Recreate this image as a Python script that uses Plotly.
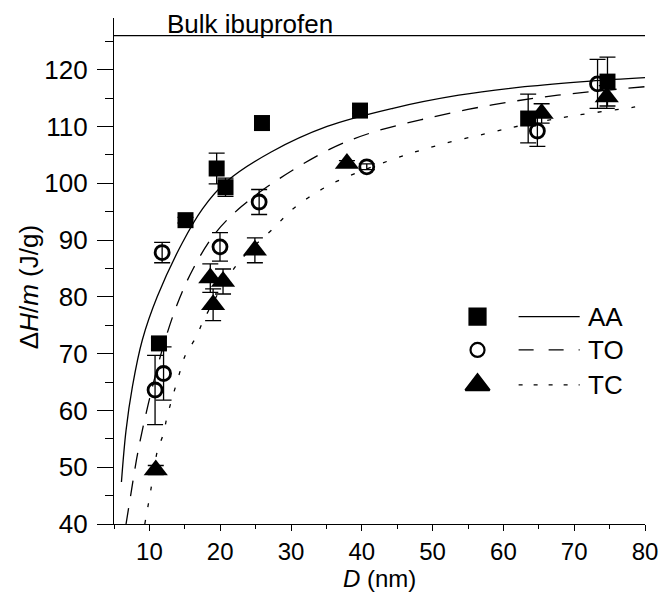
import plotly.graph_objects as go

# ---------------- data ----------------
# AA (filled squares)
aa_D = [11.35, 15.1, 19.5, 20.75, 25.9, 39.75, 63.5, 74.7]
aa_H = [71.8, 93.5, 102.6, 99.3, 110.6, 112.8, 111.4, 117.9]
aa_err = [1.0, 0.5, 2.7, 1.6, 1.2, 0.5, 4.3, 4.3]

# TO (open circles)
to_D = [10.8, 12.0, 11.8, 19.97, 25.5, 40.7, 64.8, 73.3]
to_H = [63.6, 66.5, 87.8, 88.8, 96.7, 102.9, 109.2, 117.5]
to_err = [6.1, 4.7, 1.8, 2.5, 2.2, 0.5, 2.7, 4.3]

# TC (filled triangles)
tc_D = [10.9, 18.6, 19.0, 20.4, 24.9, 37.9, 65.4, 74.6]
tc_H = [49.5, 83.3, 78.6, 82.7, 88.2, 103.5, 112.3, 115.2]
tc_err = [0.8, 2.5, 2.8, 2.2, 2.2, 0.5, 1.7, 2.0]

# fitted curves, points
aa_fit_D = [6.05, 6.7, 7.6, 9.0, 11.1, 14.6, 17.5, 20.9, 27.2, 35.1, 44.4, 53.7, 63.0, 72.3, 80.0]
aa_fit_H = [47.4, 56.5, 64.2, 72.4, 80.0, 89.4, 95.5, 100.3, 105.5, 110.0, 113.2, 115.5, 117.0, 118.0, 118.6]

to_fit_D = [6.7, 7.4, 8.2, 9.0, 10.5, 12.0, 13.9, 16.2, 19.3, 23.0, 28.1, 35.5, 41.1, 49.1, 58.4, 67.7, 80.0]
to_fit_H = [40.0, 45.4, 51.5, 56.5, 64.5, 71.5, 78.6, 85.0, 91.2, 95.9, 100.6, 106.0, 108.8, 111.4, 113.8, 115.5, 117.0]

tc_fit_D = [9.35, 10.2, 11.1, 12.0, 12.5, 14.1, 15.1, 16.5, 17.9, 22.5, 27.7, 30.4, 35.6, 43.9, 50.5, 57.4, 63.0, 70.0, 78.4, 80.0]
tc_fit_H = [40.0, 46.0, 52.7, 56.0, 58.9, 65.9, 69.8, 72.7, 76.5, 85.9, 92.3, 95.6, 99.8, 104.0, 106.6, 108.7, 110.3, 111.9, 113.4, 113.8]

bulk_value = 126.0
bulk_label = "Bulk ibuprofen"
series_names = ["AA", "TO", "TC"]

x_range = [5, 80]
y_range = [40, 129.1]

FONT = "Liberation Sans, Arial, sans-serif"
FS = 26
LW = 1.3

fig = go.Figure()

# fit curves
fig.add_trace(go.Scatter(x=aa_fit_D, y=aa_fit_H, mode="lines", line=dict(color="black", width=LW, shape="spline"), showlegend=False))
fig.add_trace(go.Scatter(x=to_fit_D, y=to_fit_H, mode="lines", line=dict(color="black", width=LW, dash="16px,12px", shape="spline"), showlegend=False))
fig.add_trace(go.Scatter(x=tc_fit_D, y=tc_fit_H, mode="lines", line=dict(color="black", width=LW, dash="4px,13px", shape="spline"), showlegend=False))

err_style = dict(type="data", color="black", thickness=LW, width=8)

fig.add_trace(go.Scatter(x=tc_D, y=tc_H, mode="markers",
                         error_y=dict(array=tc_err, **err_style),
                         marker=dict(symbol="triangle-up", size=21, color="black"), showlegend=False))
fig.add_trace(go.Scatter(x=aa_D, y=aa_H, mode="markers",
                         error_y=dict(array=aa_err, **err_style),
                         marker=dict(symbol="square", size=16, color="black"), showlegend=False))
fig.add_trace(go.Scatter(x=to_D, y=to_H, mode="markers",
                         error_y=dict(array=to_err, **err_style),
                         marker=dict(symbol="circle-open", size=14, color="black", line=dict(width=2.8, color="black")),
                         showlegend=False))

# legend built on an overlay axis in [0,1] coordinates
leg_rows = [0.41, 0.344, 0.275]
leg_marker_x = 0.6846
leg_line_x = [0.762, 0.877]
leg_text_x = 0.889
leg_symbols = ["square", "circle-open", "triangle-up"]
leg_sizes = [16, 14, 21]
leg_dash = ["solid", "15px,15px", "4px,11px"]
for i in range(3):
    fig.add_trace(go.Scatter(x=[leg_marker_x], y=[leg_rows[i]], xaxis="x2", yaxis="y2", mode="markers",
                             marker=dict(symbol=leg_symbols[i], size=leg_sizes[i], color="black",
                                         line=dict(width=2.2, color="black")),
                             showlegend=False, hoverinfo="skip"))
    fig.add_trace(go.Scatter(x=leg_line_x, y=[leg_rows[i], leg_rows[i]], xaxis="x2", yaxis="y2", mode="lines",
                             line=dict(color="black", width=LW, dash=leg_dash[i]),
                             showlegend=False, hoverinfo="skip"))
    fig.add_annotation(x=leg_text_x, y=leg_rows[i], xref="x2", yref="y2", text=series_names[i],
                       showarrow=False, xanchor="left", yanchor="middle",
                       font=dict(family=FONT, size=FS, color="black"))

# bulk line
fig.add_shape(type="line", xref="paper", yref="y", x0=0, x1=1, y0=bulk_value, y1=bulk_value,
              line=dict(color="black", width=LW))
fig.add_annotation(x=24.2, y=bulk_value, xref="x", yref="y", text=bulk_label, showarrow=False,
                   xanchor="center", yanchor="bottom", yshift=-5,
                   font=dict(family=FONT, size=FS, color="black"))

# axis titles
fig.add_annotation(x=-0.161, y=0.467, xref="paper", yref="paper", text="Δ<i>H</i>/<i>m</i> (J/g)",
                   textangle=-90, showarrow=False, xanchor="center", yanchor="middle",
                   font=dict(family=FONT, size=FS, color="black"))
fig.add_annotation(x=0.5, y=-0.108, xref="paper", yref="paper", text="<i>D</i> (nm)",
                   showarrow=False, xanchor="center", yanchor="middle",
                   font=dict(family=FONT, size=24, color="black"))

axis_common = dict(showline=True, linecolor="black", linewidth=LW, showgrid=False, zeroline=False,
                   ticks="outside", tickcolor="black", tickwidth=LW, mirror=False)

fig.update_layout(
    width=670, height=593,
    margin=dict(l=114, r=19, t=18, b=69),
    paper_bgcolor="white", plot_bgcolor="white",
    xaxis=dict(range=x_range, tick0=0, dtick=10, ticklen=6,
               tickfont=dict(family=FONT, size=24, color="black"),
               minor=dict(dtick=5, tick0=0, ticklen=4, tickwidth=LW, tickcolor="black", ticks="outside"),
               **axis_common),
    yaxis=dict(range=y_range, tick0=0, dtick=10, ticklen=16, ticklabelstandoff=4,
               tickfont=dict(family=FONT, size=FS, color="black"),
               minor=dict(dtick=5, tick0=0, ticklen=8, tickwidth=LW, tickcolor="black", ticks="outside"),
               **axis_common),
    xaxis2=dict(range=[0, 1], overlaying="x", visible=False),
    yaxis2=dict(range=[0, 1], overlaying="y", visible=False),
    showlegend=False,
)

fig.write_html("out.html")
